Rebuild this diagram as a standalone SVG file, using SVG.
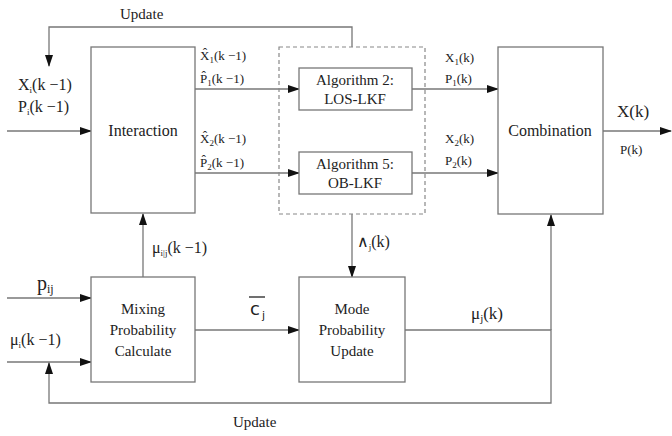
<svg xmlns="http://www.w3.org/2000/svg" width="672" height="436" viewBox="0 0 672 436">
<defs>
<marker id="ah" markerWidth="12" markerHeight="8" refX="11" refY="4" orient="auto" markerUnits="userSpaceOnUse">
<path d="M0,0 L12,4 L0,8 Z" fill="#111"/>
</marker>
<style>
.box{fill:#fff;stroke:#777;stroke-width:1.3}
.dash{fill:none;stroke:#888;stroke-width:1.2;stroke-dasharray:4,3}
.ar{fill:none;stroke:#777;stroke-width:1.3;marker-end:url(#ah)}
.t{font-size:15px}
.s{font-size:13px}
.m{font-size:16px}
.sub{font-size:9px}
.c{text-anchor:middle}
</style>
</defs>
<rect width="672" height="436" fill="#fff"/>
<g id="connectors">
<polyline class="ar" points="352,47 352,27 49,27 49,66"/>
<line class="ar" x1="7" y1="131" x2="91" y2="131"/>
<line class="ar" x1="195" y1="89" x2="299" y2="89"/>
<line class="ar" x1="195" y1="173" x2="299" y2="173"/>
<line class="ar" x1="412" y1="89" x2="498" y2="89"/>
<line class="ar" x1="412" y1="173" x2="498" y2="173"/>
<line class="ar" x1="603" y1="131" x2="671" y2="131"/>
<line class="ar" x1="143" y1="277" x2="143" y2="214"/>
<line class="ar" x1="352" y1="214" x2="352" y2="277"/>
<line class="ar" x1="7" y1="298" x2="91" y2="298"/>
<line class="ar" x1="7" y1="362" x2="91" y2="362"/>
<line class="ar" x1="195" y1="330" x2="299" y2="330"/>
<polyline class="ar" points="405,330 551,330 551,403 49,403 49,363"/>
<line class="ar" x1="551" y1="330" x2="551" y2="215"/>
</g>
<g id="labels" fill="#222">
<text font-family="'Liberation Serif', serif" class="t" x="120" y="19">Update</text>
<text font-family="'Liberation Serif', serif" class="t" x="233" y="427">Update</text>
<text font-family="'Liberation Serif', serif" class="m" x="18" y="90">X<tspan class="sub" dy="3">i</tspan><tspan dy="-3">(k −1)</tspan></text>
<text font-family="'Liberation Serif', serif" class="m" x="18" y="112">P<tspan class="sub" dy="3">i</tspan><tspan dy="-3">(k −1)</tspan></text>
<text font-family="'Liberation Serif', serif" class="s" x="200" y="60">X̂<tspan class="sub" dy="3">1</tspan><tspan dy="-3">(k −1)</tspan></text>
<text font-family="'Liberation Serif', serif" class="s" x="200" y="83">P̂<tspan class="sub" dy="3">1</tspan><tspan dy="-3">(k −1)</tspan></text>
<text font-family="'Liberation Serif', serif" class="s" x="200" y="143">X̂<tspan class="sub" dy="3">2</tspan><tspan dy="-3">(k −1)</tspan></text>
<text font-family="'Liberation Serif', serif" class="s" x="200" y="167">P̂<tspan class="sub" dy="3">2</tspan><tspan dy="-3">(k −1)</tspan></text>
<text font-family="'Liberation Serif', serif" class="s" x="445" y="62">X<tspan class="sub" dy="3">1</tspan><tspan dy="-3">(k)</tspan></text>
<text font-family="'Liberation Serif', serif" class="s" x="445" y="83">P<tspan class="sub" dy="3">1</tspan><tspan dy="-3">(k)</tspan></text>
<text font-family="'Liberation Serif', serif" class="s" x="445" y="143">X<tspan class="sub" dy="3">2</tspan><tspan dy="-3">(k)</tspan></text>
<text font-family="'Liberation Serif', serif" class="s" x="445" y="165">P<tspan class="sub" dy="3">2</tspan><tspan dy="-3">(k)</tspan></text>
<text font-family="'Liberation Serif', serif" x="617" y="117" font-size="17">X(k)</text>
<text font-family="'Liberation Serif', serif" class="s" x="620" y="154">P(k)</text>
<text font-family="'Liberation Serif', serif" class="m" x="152" y="253">μ<tspan class="sub" dy="3">i|j</tspan><tspan dy="-3">(k −1)</tspan></text>
<text font-family="'Liberation Serif', serif" class="m" x="357" y="247"><tspan font-family="'DejaVu Sans', sans-serif" font-size="16">∧</tspan><tspan class="sub" dy="3">j</tspan><tspan dy="-3">(k)</tspan></text>
<text font-family="'Liberation Serif', serif" x="37" y="290" font-size="20">p<tspan font-size="12" dy="3">ij</tspan></text>
<text font-family="'Liberation Serif', serif" class="m" x="10" y="345">μ<tspan class="sub" dy="3">i</tspan><tspan dy="-3">(k −1)</tspan></text>
<text font-family="'DejaVu Sans', sans-serif" x="250" y="315" font-size="18">c<tspan font-size="11" dx="2" dy="4">j</tspan></text>
<line x1="249" y1="297" x2="265" y2="297" stroke="#222" stroke-width="1.3"/>
<text font-family="'Liberation Serif', serif" x="471" y="319" font-size="17">μ<tspan font-size="11" dy="3">j</tspan><tspan dy="-3">(k)</tspan></text>
</g>
<g id="group-dashed"><rect class="dash" x="279" y="47" width="146" height="167"/></g>
<g id="interaction" fill="#222"><rect class="box" x="91" y="47" width="104" height="166"/><text font-family="'Liberation Serif', serif" class="m c" x="143" y="136">Interaction</text></g>
<g id="algo2" fill="#222"><rect class="box" x="299" y="68" width="113" height="42"/><text font-family="'Liberation Serif', serif" class="t c" x="355" y="85">Algorithm 2:</text><text font-family="'Liberation Serif', serif" class="t c" x="355" y="104">LOS-LKF</text></g>
<g id="algo5" fill="#222"><rect class="box" x="299" y="152" width="113" height="42"/><text font-family="'Liberation Serif', serif" class="t c" x="355" y="169">Algorithm 5:</text><text font-family="'Liberation Serif', serif" class="t c" x="355" y="188">OB-LKF</text></g>
<g id="combination" fill="#222"><rect class="box" x="498" y="47" width="105" height="167"/><text font-family="'Liberation Serif', serif" class="m c" x="550" y="136">Combination</text></g>
<g id="mixing" fill="#222"><rect class="box" x="91" y="277" width="104" height="105"/><text font-family="'Liberation Serif', serif" class="t c" x="143" y="314">Mixing</text><text font-family="'Liberation Serif', serif" class="t c" x="143" y="335">Probability</text><text font-family="'Liberation Serif', serif" class="t c" x="143" y="356">Calculate</text></g>
<g id="mode" fill="#222"><rect class="box" x="299" y="277" width="106" height="105"/><text font-family="'Liberation Serif', serif" class="t c" x="352" y="314">Mode</text><text font-family="'Liberation Serif', serif" class="t c" x="352" y="335">Probability</text><text font-family="'Liberation Serif', serif" class="t c" x="352" y="356">Update</text></g>
</svg>
